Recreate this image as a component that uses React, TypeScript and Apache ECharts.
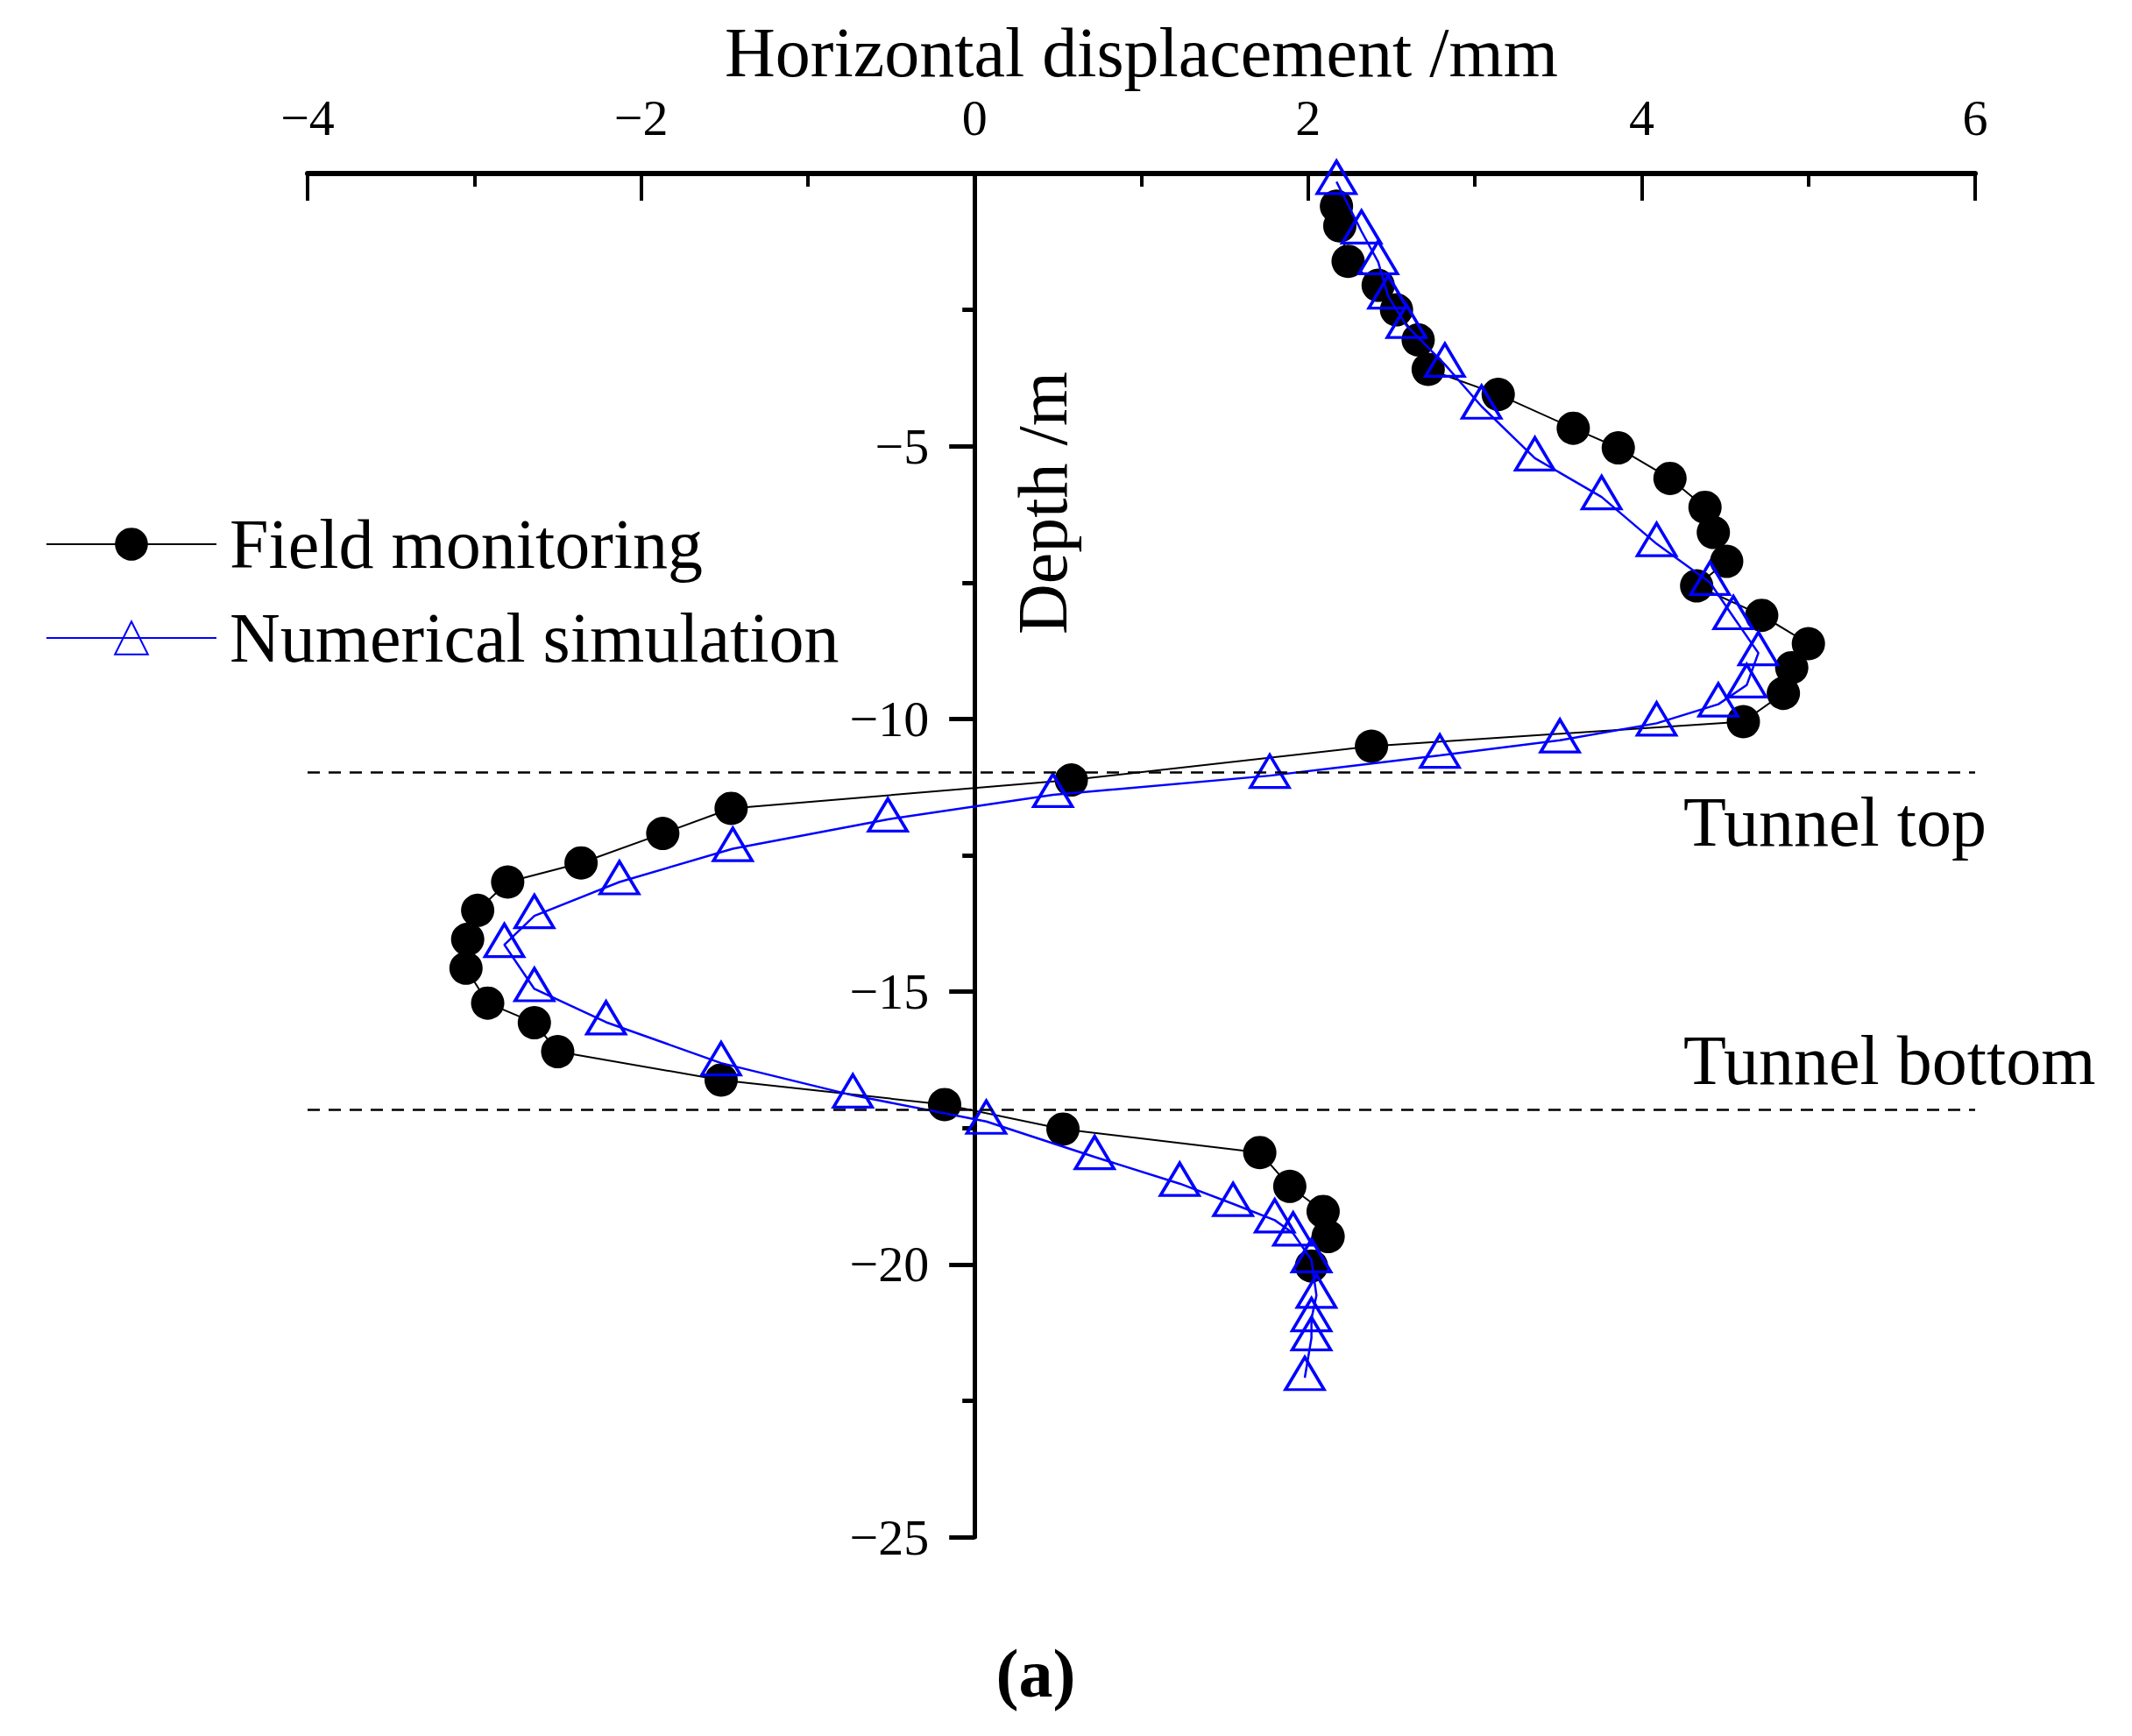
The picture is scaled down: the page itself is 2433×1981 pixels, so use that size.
import React, { useEffect, useRef } from "react";
import * as echarts from "echarts";

// ---- data ----
const FIELD_X = [2.17, 2.19, 2.24, 2.42, 2.53, 2.66, 2.72, 3.14, 3.59, 3.86, 4.17, 4.38, 4.43, 4.51, 4.33, 4.72, 5.0, 4.9, 4.85, 4.61, 2.38, 0.58, -1.46, -1.87, -2.36, -2.8, -2.98, -3.04, -3.05, -2.92, -2.64, -2.5, -1.52, -0.18, 0.53, 1.71, 1.89, 2.09, 2.12, 2.02];
const FIELD_Y = [-0.6, -0.96, -1.61, -2.05, -2.5, -3.05, -3.59, -4.05, -4.67, -5.03, -5.59, -6.12, -6.58, -7.11, -7.56, -8.1, -8.62, -9.06, -9.53, -10.05, -10.5, -11.12, -11.64, -12.1, -12.64, -12.99, -13.51, -14.04, -14.57, -15.21, -15.57, -16.1, -16.62, -17.07, -17.52, -17.95, -18.57, -19.03, -19.49, -20.03];

const SIM_X = [2.17, 2.32, 2.42, 2.48, 2.59, 2.82, 3.04, 3.36, 3.76, 4.09, 4.41, 4.55, 4.7, 4.63, 4.46, 4.09, 3.51, 2.79, 1.77, 0.47, -0.52, -1.45, -2.13, -2.64, -2.82, -2.64, -2.21, -1.52, -0.73, 0.07, 0.72, 1.23, 1.55, 1.8, 1.91, 2.02, 2.05, 2.02, 2.02, 1.98];
const SIM_Y = [-0.15, -1.06, -1.62, -2.25, -2.79, -3.5, -4.27, -5.22, -5.93, -6.79, -7.5, -8.13, -8.79, -9.38, -9.73, -10.08, -10.39, -10.67, -11.04, -11.39, -11.84, -12.38, -12.99, -13.61, -14.14, -14.95, -15.56, -16.31, -16.9, -17.38, -18.03, -18.52, -18.89, -19.19, -19.43, -19.92, -20.57, -21.0, -21.35, -22.08];

const SERIES_NAMES = ["Field monitoring", "Numerical simulation"];
const X_TICKS = { min: -4, max: 6, interval: 2 };
const Y_TICKS = { min: -25, max: 0, interval: 5 };
const TUNNEL_TOP = -10.97;
const TUNNEL_BOTTOM = -17.16;
const X_TITLE = "Horizontal displacement /mm";
const Y_TITLE = "Depth /m";
const TUNNEL_LABELS = ["Tunnel top", "Tunnel bottom"];
const PANEL_LABEL = "(a)";

const FONT = "'Liberation Serif', 'Times New Roman', serif";

const fmt = (v: number) => (v < 0 ? "\u2212" + Math.abs(v) : String(v));

const GRID = { left: 351, right: 179, top: 198, bottom: 227 };
const CANVAS_W = 2433;

export default function App() {
  const ref = useRef<HTMLDivElement>(null);

  useEffect(() => {
    if (!ref.current) return;
    const chart = echarts.init(ref.current, null, { renderer: "svg" });
    const field = FIELD_X.map((x, i) => [x, FIELD_Y[i]]);
    const sim = SIM_X.map((x, i) => [x, SIM_Y[i]]);

    const plotW = CANVAS_W - GRID.left - GRID.right;
    const zeroOffset = ((0 - X_TICKS.min) / (X_TICKS.max - X_TICKS.min)) * plotW;

    chart.setOption({
      animation: false,
      backgroundColor: "#ffffff",
      grid: { ...GRID, outerBoundsMode: "none" },
      legend: {
        orient: "vertical",
        left: 52,
        top: 581,
        padding: 0,
        itemWidth: 194,
        itemHeight: 47,
        itemGap: 27,
        data: SERIES_NAMES,
        textStyle: { fontSize: 80, fontFamily: FONT, color: "#000", padding: [0, 0, 0, 10] },
      },
      xAxis: {
        type: "value",
        position: "top",
        min: X_TICKS.min,
        max: X_TICKS.max,
        interval: X_TICKS.interval,
        name: X_TITLE,
        nameLocation: "middle",
        nameGap: 136,
        nameTextStyle: { fontSize: 80, fontFamily: FONT, color: "#000", verticalAlign: "middle" },
        axisLine: { show: true, onZero: false, lineStyle: { color: "#000", width: 6 } },
        axisTick: { show: true, inside: true, length: 31, lineStyle: { color: "#000", width: 4 } },
        minorTick: { show: true, splitNumber: 2, length: 15, lineStyle: { color: "#000", width: 4 } },
        axisLabel: { margin: 35, fontSize: 58, fontFamily: FONT, color: "#000", formatter: fmt },
        splitLine: { show: false },
        minorSplitLine: { show: false },
      },
      yAxis: {
        type: "value",
        position: "left",
        offset: -zeroOffset,
        min: Y_TICKS.min,
        max: Y_TICKS.max,
        interval: Y_TICKS.interval,
        axisLine: { show: true, onZero: false, lineStyle: { color: "#000", width: 5 } },
        axisTick: { show: true, inside: false, length: 29, lineStyle: { color: "#000", width: 5 } },
        minorTick: { show: true, splitNumber: 2, length: 14, lineStyle: { color: "#000", width: 5 } },
        axisLabel: {
          margin: 52,
          fontSize: 58,
          fontFamily: FONT,
          color: "#000",
          formatter: (v: number) => (v === 0 ? "" : fmt(v)),
        },
        splitLine: { show: false },
        minorSplitLine: { show: false },
      },
      series: [
        {
          name: SERIES_NAMES[0],
          type: "line",
          data: field,
          symbol: "circle",
          symbolSize: 38,
          lineStyle: { color: "#000", width: 2 },
          itemStyle: { color: "#000" },
          z: 2,
          markLine: {
            silent: true,
            symbol: "none",
            label: { show: false },
            lineStyle: { color: "#000", width: 2.5, type: [14, 10] },
            data: [
              [{ coord: [X_TICKS.min, TUNNEL_TOP] }, { coord: [X_TICKS.max, TUNNEL_TOP] }],
              [{ coord: [X_TICKS.min, TUNNEL_BOTTOM] }, { coord: [X_TICKS.max, TUNNEL_BOTTOM] }],
            ],
          },
        },
        {
          name: SERIES_NAMES[1],
          type: "line",
          data: sim,
          symbol: "triangle",
          symbolSize: [44, 37],
          symbolOffset: [0, -5],
          lineStyle: { color: "#0000ff", width: 2.5 },
          itemStyle: { color: "rgba(0,0,0,0)", borderColor: "#0000ff", borderWidth: 3.5 },
          z: 3,
        },
      ],
      graphic: [
        {
          type: "text",
          x: 1190,
          y: 574,
          rotation: Math.PI / 2,
          style: { text: Y_TITLE, fontSize: 80, fontFamily: FONT, fill: "#000", textAlign: "center", textVerticalAlign: "middle" },
        },
        {
          type: "text",
          x: 1921,
          y: 938,
          style: { text: TUNNEL_LABELS[0], fontSize: 80, fontFamily: FONT, fill: "#000", textAlign: "left", textVerticalAlign: "middle" },
        },
        {
          type: "text",
          x: 1921,
          y: 1210,
          style: { text: TUNNEL_LABELS[1], fontSize: 80, fontFamily: FONT, fill: "#000", textAlign: "left", textVerticalAlign: "middle" },
        },
        {
          type: "text",
          x: 1182,
          y: 1909,
          style: { text: PANEL_LABEL, fontSize: 78, fontWeight: "bold", fontFamily: FONT, fill: "#000", textAlign: "center", textVerticalAlign: "middle" },
        },
      ],
    });

    return () => chart.dispose();
  }, []);

  return <div ref={ref} style={{ position: "absolute", left: 0, top: 0, width: CANVAS_W, height: 1981 }} />;
}
